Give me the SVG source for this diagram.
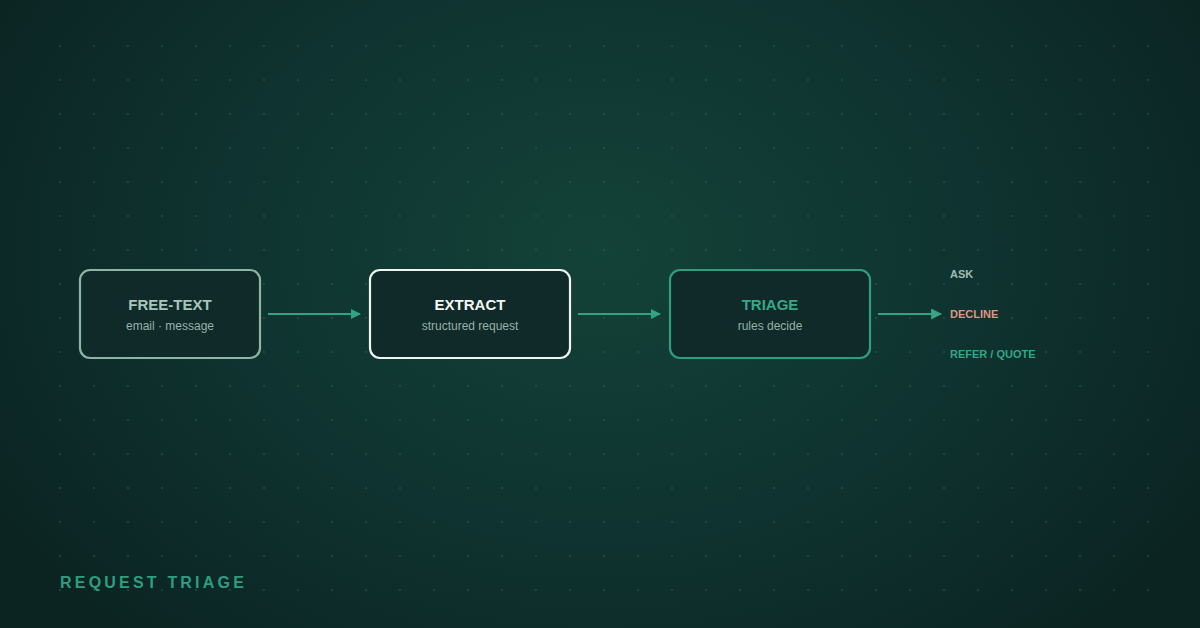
<svg xmlns="http://www.w3.org/2000/svg" width="1200" height="628" viewBox="0 0 1200 628">
  <defs>
    <radialGradient id="bg" cx="600" cy="250" r="700" gradientUnits="userSpaceOnUse" gradientTransform="translate(600 250) scale(1 0.75) translate(-600 -250)">
      <stop offset="0" stop-color="#134238"/>
      <stop offset="0.55" stop-color="#0f3330"/>
      <stop offset="1" stop-color="#0b2422"/>
    </radialGradient>
    <pattern id="dots" x="43" y="29" width="34" height="34" patternUnits="userSpaceOnUse">
      <circle cx="17" cy="17" r="1" fill="#2a5a4e" fill-opacity="0.7"/>
    </pattern>
    <marker id="ah" viewBox="0 0 10 10" refX="9" refY="5" markerWidth="10" markerHeight="10" markerUnits="userSpaceOnUse" orient="auto">
      <path d="M0,0 L10,5 L0,10 z" fill="#2fa383"/>
    </marker>
    <marker id="ah2" viewBox="0 0 10 10" refX="9" refY="5" markerWidth="11" markerHeight="11" markerUnits="userSpaceOnUse" orient="auto">
      <path d="M0,0 L10,5 L0,10 z" fill="#3aa585"/>
    </marker>
  </defs>
  <style>
    .box { fill: #0f2a29; stroke-width: 2.2; }
    .title { font-family: "Liberation Sans", Arial, sans-serif; font-size: 15px; font-weight: bold; text-anchor: middle; }
    .sub { font-family: "Liberation Sans", Arial, sans-serif; font-size: 12px; fill: #97b0a8; text-anchor: middle; }
    .out { font-family: "Liberation Sans", Arial, sans-serif; font-size: 11px; font-weight: bold; }
    .conn { stroke: #2fa383; stroke-width: 2; fill: none; }
  </style>
  <rect width="1200" height="628" fill="url(#bg)"/>
  <rect x="43" y="29" width="1122" height="578" fill="url(#dots)"/>

  <g id="free-text">
    <rect class="box" x="80" y="270" width="180" height="88" rx="10" stroke="#8db5a6"/>
    <text class="title" x="170" y="310" fill="#a6c6ba">FREE-TEXT</text>
    <text class="sub" x="170" y="330">email · message</text>
  </g>
  <g id="extract">
    <rect class="box" x="370" y="270" width="200" height="88" rx="10" stroke="#eef4f0"/>
    <text class="title" x="470" y="310" fill="#f2f6f4">EXTRACT</text>
    <text class="sub" x="470" y="330">structured request</text>
  </g>
  <g id="triage">
    <rect class="box" x="670" y="270" width="200" height="88" rx="10" stroke="#2e9e7e"/>
    <text class="title" x="770" y="310" fill="#38a887">TRIAGE</text>
    <text class="sub" x="770" y="330">rules decide</text>
  </g>
  <g id="outcomes">
    <text class="out" x="950" y="278" fill="#a3bcb4">ASK</text>
    <text class="out" x="950" y="318" fill="#de9580">DECLINE</text>
    <text class="out" x="950" y="358" fill="#2fa886">REFER / QUOTE</text>
  </g>
  <g id="connectors">
    <line class="conn" x1="268" y1="314" x2="360" y2="314" marker-end="url(#ah)"/>
    <line class="conn" x1="578" y1="314" x2="660" y2="314" marker-end="url(#ah)"/>
    <line class="conn" x1="878" y1="314" x2="941" y2="314" stroke="#3aa585" stroke-width="3" marker-end="url(#ah2)"/>
  </g>
  <text x="60" y="588" font-family="'Liberation Sans', Arial, sans-serif" font-size="16" font-weight="bold" letter-spacing="3.2" fill="#2e9e80">REQUEST TRIAGE</text>
</svg>
